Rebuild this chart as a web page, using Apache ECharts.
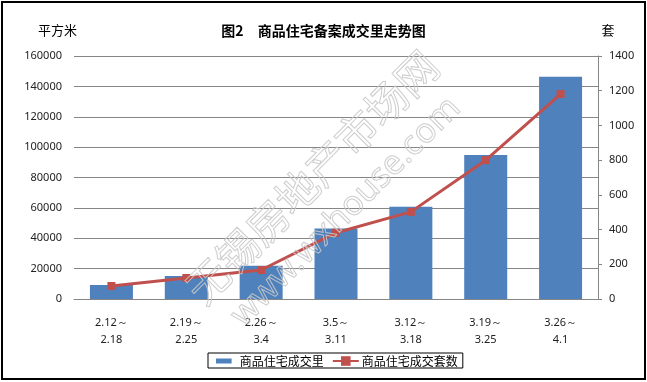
<!DOCTYPE html>
<html><head><meta charset="utf-8">
<script src="https://cdn.jsdelivr.net/npm/echarts@6/dist/echarts.min.js"></script>
<style>html,body{margin:0;padding:0;background:#fff}#c{width:647px;height:382px}</style>
</head><body><div id="c"></div>
<script>
const categories = ['2.12～\n2.18','2.19～\n2.25','2.26～\n3.4','3.5～\n3.11','3.12～\n3.18','3.19～\n3.25','3.26～\n4.1'];
const areaValues = [9200, 15100, 21900, 46500, 60800, 94800, 146400];
const unitValues = [75, 121, 167, 382, 502, 800, 1181];
const seriesNames = ['商品住宅成交里', '商品住宅成交套数'];
const titleText = '图2　商品住宅备案成交里走势图';
const leftUnit = '平方米';
const rightUnit = '套';

const numFont = '"Noto Sans", "Liberation Sans", sans-serif';
const cjkFont = '"Noto Sans CJK SC", sans-serif';
const plain = v => String(v);
const chart = echarts.init(document.getElementById('c'), null, {renderer: 'canvas'});
chart.setOption({
  animation: false,
  backgroundColor: '#fff',
  title: {
    text: titleText, left: 'center', top: 19,
    textStyle: {fontFamily: cjkFont, fontSize: 14, fontWeight: 'bold', color: '#000'}
  },
  grid: {left: 74, right: 49, top: 56, bottom: 83, containLabel: false},
  legend: {
    left: 208, top: 353,
    data: [{name: seriesNames[0], icon: 'path://M0,0L0.01,0M0,6L26,6L26,14L0,14ZM0,20L0.01,20'}, {name: seriesNames[1]}],
    itemWidth: 26, itemHeight: 12, itemGap: 8,
    borderColor: '#000', borderWidth: 1, padding: [2, 5, 1, 8],
    textStyle: {fontFamily: cjkFont, fontSize: 12, color: '#000', padding: [0, 0, 0, -2]}
  },
  xAxis: {
    type: 'category', data: categories,
    axisLine: {lineStyle: {color: '#868686'}},
    axisTick: {show: false},
    axisLabel: {fontFamily: numFont, fontSize: 11, color: '#222', lineHeight: 17, margin: 15, interval: 0}
  },
  yAxis: [{
    type: 'value', min: 0, max: 160000, interval: 20000,
    name: leftUnit, nameLocation: 'end', nameGap: 0,
    nameTextStyle: {fontFamily: cjkFont, fontSize: 13, color: '#000', align: 'center', padding: [0, 0, 19, -33]},
    axisLine: {show: false}, axisTick: {show: false},
    axisLabel: {fontFamily: numFont, fontSize: 11, color: '#222', margin: 12, formatter: plain},
    splitLine: {lineStyle: {color: '#868686', width: 1}}
  }, {
    type: 'value', min: 0, max: 1400, interval: 200, position: 'right',
    name: rightUnit, nameLocation: 'end', nameGap: 0,
    nameTextStyle: {fontFamily: cjkFont, fontSize: 13, color: '#000', align: 'center', padding: [0, 0, 19, 20]},
    axisLine: {show: true, lineStyle: {color: '#868686'}},
    axisTick: {show: true, inside: false, length: 4, lineStyle: {color: '#868686'}},
    axisLabel: {fontFamily: numFont, fontSize: 11, color: '#222', margin: 11, formatter: plain},
    splitLine: {show: false}
  }],
  series: [{
    name: seriesNames[0], type: 'bar', data: areaValues, barWidth: 43,
    itemStyle: {color: '#4F81BD'}
  }, {
    name: seriesNames[1], type: 'line', yAxisIndex: 1, data: unitValues,
    symbol: 'rect', symbolSize: 8,
    lineStyle: {color: '#C0504D', width: 3},
    itemStyle: {color: '#C0504D'}
  }],
  graphic: [
    {type: 'rect', shape: {x: 2, y: 2, width: 643, height: 377}, style: {fill: 'none', stroke: '#000', lineWidth: 2}, z: 100},
    {type: 'text', x: 312, y: 177, rotation: Math.PI / 4, z: 50,
     style: {text: '无锡房地产市场网', fontFamily: cjkFont, fontSize: 42, fill: 'rgba(255,255,255,0)', stroke: 'rgba(200,200,200,0.9)', lineWidth: 1, align: 'center', verticalAlign: 'middle'}},
    {type: 'text', x: 346, y: 212, rotation: Math.PI / 4, z: 50,
     style: {text: 'www.wxhouse.com', fontFamily: numFont, fontSize: 34, fill: 'rgba(255,255,255,0)', stroke: 'rgba(200,200,200,0.9)', lineWidth: 1, align: 'center', verticalAlign: 'middle'}}
  ]
});
</script></body></html>
